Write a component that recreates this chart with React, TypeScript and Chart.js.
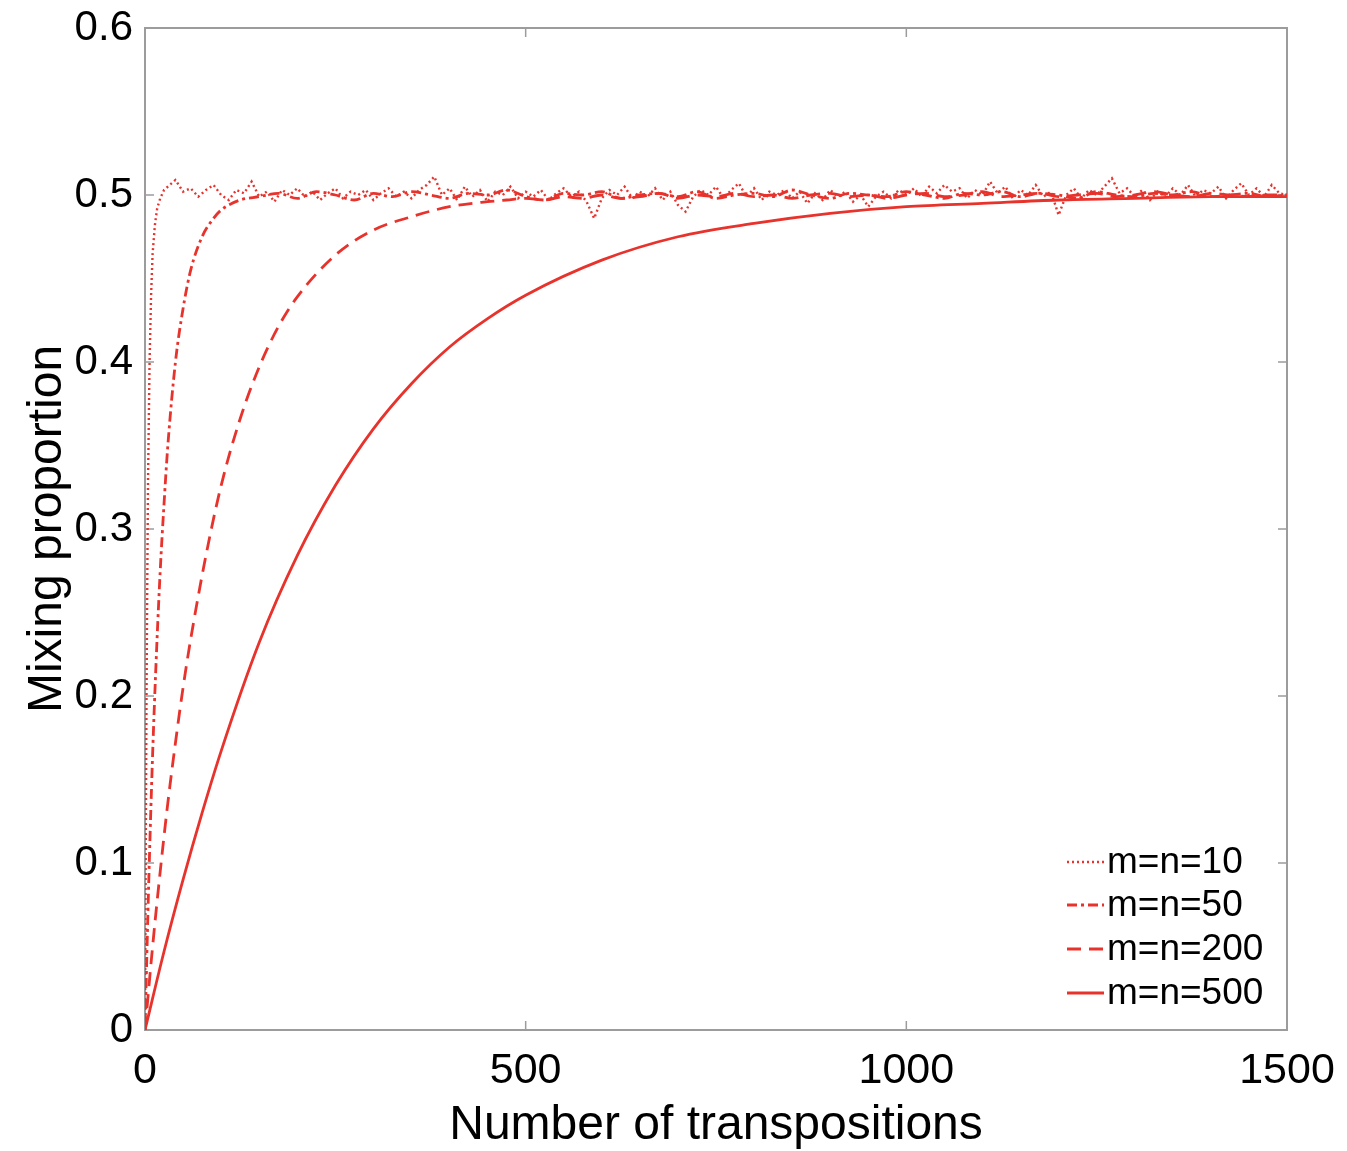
import React, { useEffect, useRef } from "react";
import { Chart, registerables } from "chart.js";

Chart.register(...registerables);

// ---------- data ----------
const X_TICKS = [0, 500, 1000, 1500];
const Y_TICKS = [0, 0.1, 0.2, 0.3, 0.4, 0.5, 0.6];
const SERIES_LABELS = ["m=n=10", "m=n=50", "m=n=200", "m=n=500"];

// m=n=10 : fast rise then noisy plateau
const m10RiseX = [0, 1, 2, 3, 4, 6, 8, 10, 13, 16, 20, 25];
const m10RiseY = [0, 0.11, 0.2, 0.27, 0.33, 0.4, 0.44, 0.465, 0.482, 0.492, 0.498, 0.503];
const m10NoiseStart = 30;
const m10NoiseStep = 10;
const m10Noise = [
  0.505, 0.509, 0.502, 0.504, 0.499, 0.503, 0.506, 0.5, 0.497, 0.503,
  0.501, 0.508, 0.499, 0.502, 0.496, 0.503, 0.5, 0.504, 0.499, 0.502,
  0.497, 0.501, 0.504, 0.498, 0.502, 0.5, 0.503, 0.497, 0.501, 0.504,
  0.499, 0.502, 0.498, 0.503, 0.506, 0.511, 0.5, 0.504, 0.497, 0.505,
  0.499, 0.503, 0.496, 0.502, 0.5, 0.505, 0.498, 0.502, 0.499, 0.503,
  0.497, 0.501, 0.504, 0.499, 0.502, 0.496, 0.486, 0.498, 0.503, 0.5,
  0.505, 0.498, 0.502, 0.499, 0.504, 0.497, 0.502, 0.494, 0.49, 0.499,
  0.503, 0.5, 0.505, 0.498, 0.503, 0.507, 0.499, 0.504, 0.497, 0.502,
  0.5, 0.503, 0.498, 0.502, 0.495, 0.501, 0.497, 0.503, 0.499, 0.502,
  0.496, 0.5, 0.493, 0.499, 0.502, 0.498, 0.503, 0.5, 0.504, 0.499,
  0.505, 0.501, 0.506, 0.502, 0.504, 0.498, 0.503, 0.5, 0.508, 0.501,
  0.505, 0.498, 0.503, 0.5, 0.506, 0.499, 0.502, 0.488, 0.5, 0.504,
  0.498, 0.503, 0.5, 0.505, 0.51, 0.501, 0.504, 0.499, 0.503, 0.497,
  0.502, 0.499, 0.504, 0.5, 0.506, 0.499, 0.503, 0.501, 0.505, 0.498,
  0.503, 0.507, 0.5, 0.504, 0.499, 0.506, 0.501, 0.5,
];

// m=n=50
const m50RiseX = [0, 5, 10, 15, 20, 25, 30, 40, 50, 60, 75, 90, 100, 125];
const m50RiseY = [0, 0.09, 0.165, 0.225, 0.275, 0.315, 0.35, 0.4, 0.432, 0.455, 0.475, 0.486, 0.491, 0.497];
const m50NoiseStart = 150;
const m50NoiseStep = 25;
const m50Noise = [
  0.499, 0.501, 0.498, 0.502, 0.5, 0.497, 0.501, 0.499, 0.502, 0.5,
  0.498, 0.501, 0.5, 0.503, 0.499, 0.497, 0.501, 0.5, 0.502, 0.498,
  0.5, 0.501, 0.499, 0.502, 0.498, 0.5, 0.501, 0.499, 0.503, 0.5,
  0.498, 0.501, 0.5, 0.499, 0.502, 0.5, 0.498, 0.501, 0.5, 0.502,
  0.499, 0.501, 0.5, 0.498, 0.502, 0.5, 0.499, 0.501, 0.5, 0.502,
  0.499, 0.5, 0.501, 0.499, 0.5,
];

// m=n=200
const m200X = [0, 10, 20, 30, 40, 50, 60, 80, 100, 125, 150, 175, 200, 250, 300, 350, 400, 450];
const m200Y = [0, 0.05, 0.095, 0.136, 0.172, 0.205, 0.234, 0.284, 0.326, 0.366, 0.397, 0.421, 0.439, 0.464, 0.479, 0.487, 0.493, 0.496];
const m200NoiseStart = 475;
const m200NoiseStep = 25;
const m200Noise = [
  0.497, 0.498, 0.497, 0.499, 0.498, 0.5, 0.498, 0.499, 0.501, 0.498,
  0.5, 0.499, 0.501, 0.499, 0.5, 0.498, 0.5, 0.501, 0.499, 0.5,
  0.498, 0.5, 0.501, 0.499, 0.5, 0.502, 0.499, 0.5, 0.501, 0.499,
  0.5, 0.501, 0.499, 0.5, 0.502, 0.5, 0.499, 0.501, 0.5, 0.499,
  0.5, 0.5,
];

// m=n=500 : slow smooth rise
const m500X = [0, 25, 50, 75, 100, 150, 200, 250, 300, 350, 400, 450, 500, 600, 700, 800, 900, 1000, 1100, 1200, 1300, 1400, 1500];
const m500Y = [0, 0.047, 0.09, 0.13, 0.167, 0.232, 0.284, 0.326, 0.36, 0.387, 0.409, 0.426, 0.44, 0.461, 0.475, 0.483, 0.489, 0.493, 0.495, 0.497, 0.498, 0.499, 0.499];

// ---------- helpers ----------
const RED = "#e8322c";
const FONT = "'Liberation Sans', Arial, Helvetica, sans-serif";

function pairs(xs: number[], ys: number[]) {
  return xs.map((x, i) => ({ x, y: ys[i] }));
}
function gridPairs(start: number, step: number, ys: number[]) {
  return ys.map((y, i) => ({ x: start + i * step, y }));
}

const DASHES: number[][] = [[2, 3], [10, 4, 3, 4], [14, 8], []];

function zeroPad(s: any) {
  s.paddingTop = 0;
  s.paddingBottom = 0;
  s.paddingLeft = 0;
  s.paddingRight = 0;
}

const framePlugin = {
  id: "frame",
  beforeDatasetsDraw(chart: any) {
    const { ctx, chartArea: a, scales } = chart;
    ctx.save();
    ctx.strokeStyle = "#9c9c9c";
    ctx.lineWidth = 2;
    ctx.strokeRect(a.left, a.top, a.right - a.left, a.bottom - a.top);
    ctx.lineWidth = 1.5;
    const tl = 9;
    ctx.beginPath();
    for (const v of X_TICKS) {
      const px = scales.x.getPixelForValue(v);
      ctx.moveTo(px, a.bottom);
      ctx.lineTo(px, a.bottom - tl);
      ctx.moveTo(px, a.top);
      ctx.lineTo(px, a.top + tl);
    }
    for (const v of Y_TICKS) {
      const py = scales.y.getPixelForValue(v);
      ctx.moveTo(a.left, py);
      ctx.lineTo(a.left + tl, py);
      ctx.moveTo(a.right, py);
      ctx.lineTo(a.right - tl, py);
    }
    ctx.stroke();
    ctx.restore();
  },
  afterDraw(chart: any) {
    const { ctx, chartArea: a } = chart;
    ctx.save();
    ctx.fillStyle = "#000";
    // axis titles
    ctx.font = `48px ${FONT}`;
    ctx.textAlign = "center";
    ctx.textBaseline = "alphabetic";
    ctx.fillText("Number of transpositions", (a.left + a.right) / 2, 1139);
    ctx.save();
    ctx.translate(61, (a.top + a.bottom) / 2);
    ctx.rotate(-Math.PI / 2);
    ctx.fillText("Mixing proportion", 0, 0);
    ctx.restore();

    // legend
    const rowsY = [862, 905, 949, 993];
    ctx.font = `37px ${FONT}`;
    ctx.textAlign = "left";
    ctx.textBaseline = "middle";
    chart.data.datasets.forEach((ds: any, i: number) => {
      const y = rowsY[i];
      ctx.save();
      ctx.strokeStyle = RED;
      ctx.lineWidth = ds.borderWidth;
      ctx.setLineDash(DASHES[i]);
      ctx.beginPath();
      ctx.moveTo(1067, y);
      ctx.lineTo(1104, y);
      ctx.stroke();
      ctx.restore();
      ctx.fillStyle = "#000";
      ctx.fillText(SERIES_LABELS[i], 1107, y + 1);
    });
    ctx.restore();
  },
};

export default function App() {
  const ref = useRef<HTMLCanvasElement | null>(null);

  useEffect(() => {
    if (!ref.current) return;
    const m10 = [...pairs(m10RiseX, m10RiseY), ...gridPairs(m10NoiseStart, m10NoiseStep, m10Noise)];
    const m50 = [...pairs(m50RiseX, m50RiseY), ...gridPairs(m50NoiseStart, m50NoiseStep, m50Noise)];
    const m200 = [...pairs(m200X, m200Y), ...gridPairs(m200NoiseStart, m200NoiseStep, m200Noise)];
    const m500 = pairs(m500X, m500Y);

    const chart = new Chart(ref.current, {
      type: "line",
      data: {
        datasets: [
          { label: SERIES_LABELS[0], data: m10, borderColor: RED, borderWidth: 2.4, borderDash: DASHES[0], pointRadius: 0, tension: 0, fill: false },
          { label: SERIES_LABELS[1], data: m50, borderColor: RED, borderWidth: 2.8, borderDash: DASHES[1], pointRadius: 0, cubicInterpolationMode: "monotone", fill: false },
          { label: SERIES_LABELS[2], data: m200, borderColor: RED, borderWidth: 2.8, borderDash: DASHES[2], pointRadius: 0, cubicInterpolationMode: "monotone", fill: false },
          { label: SERIES_LABELS[3], data: m500, borderColor: RED, borderWidth: 2.8, borderDash: DASHES[3], pointRadius: 0, cubicInterpolationMode: "monotone", fill: false },
        ],
      },
      options: {
        animation: false,
        responsive: false,
        devicePixelRatio: 1,
        layout: { padding: { left: 0, right: 60, top: 28, bottom: 0 } },
        plugins: { legend: { display: false }, tooltip: { enabled: false }, title: { display: false } },
        scales: {
          x: {
            type: "linear",
            min: 0,
            max: 1500,
            afterBuildTicks: (s: any) => { s.ticks = X_TICKS.map((v) => ({ value: v })); },
            afterFit: (s: any) => { s.height = 121; zeroPad(s); },
            grid: { display: false, drawTicks: false },
            border: { display: false },
            ticks: { color: "#000", padding: 15, maxRotation: 0, font: { family: FONT, size: 43 }, callback: (v: any) => String(v) },
          },
          y: {
            type: "linear",
            min: 0,
            max: 0.6,
            afterBuildTicks: (s: any) => { s.ticks = Y_TICKS.map((v) => ({ value: v })); },
            afterFit: (s: any) => { s.width = 145; zeroPad(s); },
            grid: { display: false, drawTicks: false },
            border: { display: false },
            ticks: { color: "#000", padding: 12, font: { family: FONT, size: 42 }, callback: (v: any) => String(Math.round(Number(v) * 10) / 10) },
          },
        },
      },
      plugins: [framePlugin],
    } as any);
    return () => chart.destroy();
  }, []);

  return (
    <div style={{ position: "absolute", left: 0, top: 0, width: 1347, height: 1151, background: "#fff" }}>
      <canvas ref={ref} width={1347} height={1151} style={{ width: 1347, height: 1151, display: "block" }} />
    </div>
  );
}
